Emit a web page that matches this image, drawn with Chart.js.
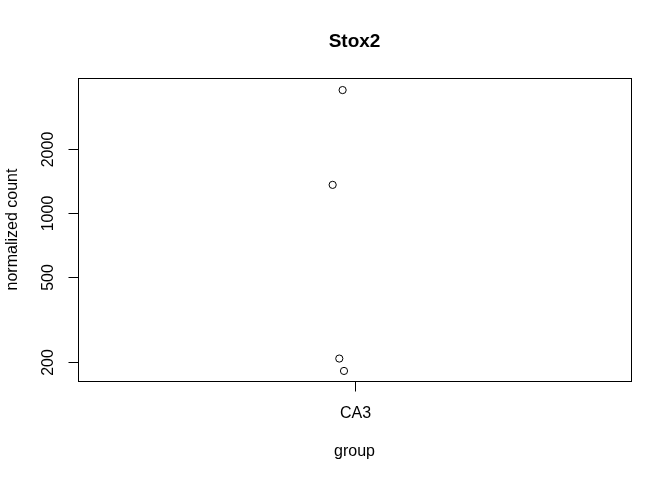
<!DOCTYPE html>
<html>
<head>
<meta charset="utf-8">
<script src="https://cdn.jsdelivr.net/npm/chart.js@4/dist/chart.umd.min.js"></script>
<style>
html,body{margin:0;padding:0;background:#fff;}
canvas{display:block;}
</style>
</head>
<body>
<canvas id="c" width="672" height="480"></canvas>
<script>
// ---- data ----
const title = 'Stox2';
const categories = ['CA3'];
const groupIndex = [1, 1, 1, 1];                 // all samples belong to CA3
const jitter = [-0.043, -0.079, -0.055, -0.038]; // horizontal jitter
const counts = [3800, 1360, 207, 181];
const yTicks = [200, 500, 1000, 2000];
const yLabel = 'normalized count';
const xLabel = 'group';

const FONT = '"Liberation Sans", Arial, Helvetica, sans-serif';

const points = counts.map((v, i) => ({ x: groupIndex[i] + jitter[i], y: v }));

const rAxes = {
  id: 'rAxes',
  afterDraw(chart) {
    const ctx = chart.ctx;
    const a = chart.chartArea;
    const xs = chart.scales.x, ys = chart.scales.y;
    ctx.save();
    ctx.strokeStyle = '#000';
    ctx.fillStyle = '#000';
    ctx.lineWidth = 1;
    // box
    const bx = Math.round(a.left) + 0.5;
    const by = Math.round(a.bottom) + 0.5;
    const tx = Math.round(a.top) + 0.5;
    const rx = Math.round(a.right) + 0.5;
    ctx.strokeRect(bx, tx, rx - bx, by - tx);
    // y ticks
    ctx.font = '16px ' + FONT;
    ctx.textAlign = 'center';
    ctx.textBaseline = 'alphabetic';
    yTicks.forEach(t => {
      const py = Math.round(ys.getPixelForValue(t)) + 0.5;
      ctx.beginPath();
      ctx.moveTo(bx - 10, py);
      ctx.lineTo(bx, py);
      ctx.stroke();
      ctx.save();
      ctx.translate(bx - 25.5, py);
      ctx.rotate(-Math.PI / 2);
      ctx.fillText(String(t), 0, 0);
      ctx.restore();
    });
    // x ticks
    categories.forEach((c, i) => {
      const px = Math.round(xs.getPixelForValue(i + 1)) + 0.5;
      ctx.beginPath();
      ctx.moveTo(px, by);
      ctx.lineTo(px, by + 10);
      ctx.stroke();
      ctx.fillText(c, px, by + 36);
    });
    // axis titles
    const cx = (a.left + a.right) / 2;
    const cy = (a.top + a.bottom) / 2;
    ctx.fillText(xLabel, cx, by + 74);
    ctx.save();
    ctx.translate(17, cy);
    ctx.rotate(-Math.PI / 2);
    ctx.fillText(yLabel, 0, 0);
    ctx.restore();
    // main title
    ctx.font = 'bold 19px ' + FONT;
    ctx.fillText(title, cx, 47);
    ctx.restore();
  }
};

new Chart(document.getElementById('c'), {
  type: 'scatter',
  data: {
    datasets: [{
      data: points,
      pointStyle: 'circle',
      pointRadius: 3.6,
      pointHoverRadius: 3.6,
      borderWidth: 1,
      borderColor: '#000',
      backgroundColor: 'rgba(0,0,0,0)',
      clip: false
    }]
  },
  options: {
    responsive: false,
    animation: false,
    devicePixelRatio: 1,
    layout: { padding: { left: 78, top: 78, right: 41, bottom: 99 } },
    plugins: { legend: { display: false }, tooltip: { enabled: false }, title: { display: false } },
    scales: {
      x: { type: 'linear', min: 0, max: 2, display: false },
      y: { type: 'logarithmic', min: 162.3, max: 4331, display: false }
    }
  },
  plugins: [rAxes]
});
</script>
</body>
</html>
